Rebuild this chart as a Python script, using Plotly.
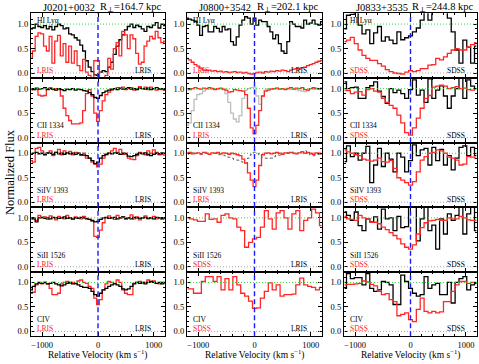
import plotly.graph_objects as go
from plotly.subplots import make_subplots

# velocity bin centres (km/s)
V50 = [-1200, -1150, -1100, -1050, -1000, -950, -900, -850, -800, -750, -700, -650,
       -600, -550, -500, -450, -400, -350, -300, -250, -200, -150, -100, -50, 0,
       50, 100, 150, 200, 250, 300, 350, 400, 450, 500, 550, 600, 650, 700, 750,
       800, 850, 900, 950, 1000, 1050, 1100, 1150, 1200]
V70 = [-1190, -1120, -1050, -980, -910, -840, -770, -700, -630, -560, -490, -420,
       -350, -280, -210, -140, -70, 0, 70, 140, 210, 280, 350, 420, 490, 560, 630,
       700, 770, 840, 910, 980, 1050, 1120, 1190]

# ---- J0201+0032 (V50 grid) ----
J0201_HI_BLACK = [0.90, 0.92, 1.00, 0.95, 0.93, 0.97, 0.90,
                  0.95, 0.88, 0.95, 1.00, 0.97, 0.90, 0.92,
                  0.80, 0.78, 0.72, 0.67, 0.57, 0.45, 0.25,
                  0.12, 0.03, -0.04, -0.05, 0.02, 0.05, 0.03,
                  0.12, 0.22, 0.38, 0.55, 0.68, 0.78, 0.88,
                  0.95, 1.00, 0.93, 0.98, 0.95, 0.90, 0.85,
                  0.95, 0.93, 0.98, 1.03, 0.92, 1.00, 0.97]
J0201_HI_RED = [0.30, 0.45, 0.75, 0.82, 0.80, 0.55, 0.45,
                0.75, 0.20, 0.65, 0.77, 0.35, 0.60, 0.22,
                0.55, 0.20, 0.45, 0.15, 0.05, 0.28, 0.02,
                -0.05, -0.10, 0.25, 0.25, -0.10, -0.10, -0.05,
                0.30, 0.08, 0.50, 0.62, 0.35, 0.85, 0.78,
                0.50, 0.78, 0.70, 0.40, 0.18, 0.22, 0.55,
                0.65, 0.75, 0.70, 0.85, 0.72, 0.62, 0.65]
J0201_CII_BLACK = [1.00, 0.98, 1.01, 0.99, 1.00, 1.02, 0.98,
                   1.00, 0.99, 0.97, 1.00, 0.98, 0.96, 0.99,
                   0.98, 1.00, 0.97, 0.99, 0.98, 0.96, 0.95,
                   0.92, 0.88, 0.82, 0.80, 0.86, 0.92, 0.95,
                   0.97, 0.99, 1.00, 0.98, 1.01, 0.99, 1.00,
                   1.02, 0.99, 1.00, 0.98, 1.01, 1.00, 0.99,
                   1.01, 0.98, 1.00, 1.02, 0.99, 1.00, 0.98]
J0201_CII_RED = [0.98, 1.00, 0.98, 0.87, 0.85, 0.86, 1.00,
                 1.02, 0.98, 1.00, 0.99, 0.85, 0.60, 0.45,
                 0.35, 0.28, 0.28, 0.28, 0.30, 0.55, 0.90,
                 0.98, 0.85, 0.50, 0.33, 0.55, 0.75, 0.88,
                 0.93, 0.97, 1.00, 1.02, 1.00, 1.03, 0.98,
                 1.00, 1.02, 0.97, 1.00, 1.04, 1.00, 1.03,
                 0.98, 1.03, 1.00, 0.97, 1.00, 0.98, 0.97]
J0201_SIIV_BLACK = [0.98, 1.00, 1.02, 0.99, 1.00, 0.97, 1.01,
                    1.00, 0.98, 1.02, 0.99, 1.00, 0.98, 1.01,
                    0.99, 1.00, 0.98, 1.00, 0.97, 0.96, 0.95,
                    0.90, 0.85, 0.79, 0.82, 0.90, 0.95, 0.98,
                    1.00, 0.99, 1.01, 1.00, 0.98, 1.00, 0.99,
                    0.94, 0.93, 0.95, 0.98, 1.00, 0.99, 1.01,
                    0.97, 0.95, 0.98, 1.00, 0.99, 1.01, 1.00]
J0201_SIIV_RED = [0.85, 0.82, 1.10, 1.12, 1.05, 0.98, 1.00,
                  1.05, 0.95, 1.02, 1.08, 0.97, 1.05, 1.00,
                  1.04, 0.97, 1.02, 1.00, 0.96, 1.00, 0.90,
                  0.90, 0.82, 0.78, 0.72, 0.78, 0.90, 0.97,
                  1.00, 1.05, 1.10, 1.02, 1.08, 0.98, 1.00,
                  0.90, 0.88, 0.87, 0.95, 1.02, 1.00, 0.97,
                  1.05, 1.00, 1.07, 1.02, 0.97, 0.98, 0.96]
J0201_SIII_BLACK = [1.00, 0.98, 0.92, 1.00, 1.01, 0.99, 1.00,
                    0.98, 1.01, 1.00, 0.99, 1.00, 1.02, 0.99,
                    1.00, 0.98, 1.00, 0.99, 1.01, 1.00, 0.98,
                    0.97, 0.95, 0.92, 0.93, 0.97, 1.00, 1.01,
                    0.99, 1.00, 1.01, 0.98, 1.00, 1.02, 0.99,
                    1.00, 0.98, 1.01, 1.00, 0.99, 1.00, 1.01,
                    0.99, 1.00, 0.98, 1.01, 1.00, 0.99, 1.00]
J0201_SIII_RED = [0.98, 1.00, 0.95, 1.05, 1.00, 1.02, 0.97,
                  1.04, 1.00, 0.96, 1.03, 1.00, 0.98, 1.05,
                  1.00, 0.97, 1.02, 1.00, 0.98, 1.03, 0.99,
                  0.97, 0.93, 0.62, 0.60, 0.75, 0.90, 1.00,
                  1.04, 1.00, 0.97, 1.05, 1.00, 1.02, 0.97,
                  1.00, 1.06, 0.98, 1.02, 0.96, 1.00, 1.04,
                  0.98, 1.00, 1.03, 0.98, 1.00, 0.97, 1.00]
J0201_CIV_BLACK = [0.85, 0.92, 0.97, 1.00, 0.98, 1.00, 0.97,
                   0.98, 1.00, 0.97, 0.95, 0.93, 0.95, 0.98,
                   1.00, 0.97, 0.98, 0.95, 0.92, 0.90, 0.90,
                   0.88, 0.82, 0.75, 0.72, 0.78, 0.85, 0.88,
                   0.92, 0.95, 0.97, 0.95, 0.92, 0.87, 0.85,
                   0.87, 0.92, 0.97, 1.00, 0.98, 1.00, 0.97,
                   1.00, 1.02, 1.00, 0.98, 1.00, 0.97, 1.00]
J0201_CIV_RED = [0.78, 0.80, 0.95, 0.98, 0.97, 1.00, 0.97,
                 0.88, 0.75, 0.75, 0.78, 0.97, 1.00, 1.02,
                 0.98, 1.00, 0.97, 1.03, 1.05, 1.00, 0.98,
                 0.92, 0.88, 0.68, 0.55, 0.65, 0.85, 0.97,
                 1.02, 1.00, 0.98, 1.05, 1.00, 0.85, 0.78,
                 0.75, 0.75, 0.98, 1.00, 1.02, 0.98, 1.00,
                 1.05, 1.00, 1.03, 0.98, 0.97, 1.00, 0.98]

# ---- J0800+3542 ----
J0800_HI_BLACK = [1.12, 1.10, 1.08, 1.05, 0.98, 0.77, 0.95,
                  0.97, 0.84, 0.84, 0.95, 0.91, 0.84, 0.95,
                  0.88, 0.90, 0.64, 0.57, 0.74, 0.98, 1.08,
                  1.15, 1.12, 1.00, 1.12, 0.98, 1.08, 1.05,
                  1.05, 0.95, 0.84, 0.70, 0.78, 0.60, 0.45,
                  0.40, 0.64, 1.05, 1.00, 0.95, 0.95, 0.92,
                  1.08, 1.00, 1.02, 1.08, 1.00, 0.98, 1.05]
J0800_HI_RED = [0.30, 0.27, 0.22, 0.17, 0.14, 0.10, 0.06,
                0.05, 0.06, 0.04, 0.05, 0.03, 0.04, 0.02,
                0.03, 0.01, 0.02, 0.03, 0.01, 0.02, 0.00,
                0.01, -0.01, -0.02, -0.01, 0.01, 0.02, 0.00,
                0.03, 0.02, 0.04, 0.03, 0.05, 0.04, 0.06,
                0.05, 0.03, 0.06, 0.08, 0.09, 0.08, 0.11,
                0.12, 0.15, 0.17, 0.19, 0.22, 0.24, 0.26]
J0800_CII_RED = [1.00, 0.98, 1.00, 1.02, 1.00, 0.99, 1.01,
                 1.00, 1.02, 1.00, 0.98, 1.00, 1.01, 0.99,
                 0.97, 0.93, 0.94, 0.98, 0.97, 0.96, 0.95,
                 0.88, 0.60, 0.20, 0.08, 0.25, 0.55, 0.85,
                 0.95, 0.97, 0.99, 1.00, 1.01, 0.99, 1.00,
                 0.98, 1.00, 1.02, 0.99, 1.01, 1.00, 1.02,
                 0.98, 0.97, 1.00, 1.02, 1.00, 0.99, 1.01]
J0800_CII_GREY = [0.25, 0.30, 0.55, 0.78, 0.88, 0.90, 0.95,
                  1.00, 0.99, 1.01, 1.00, 0.99, 1.00, 0.98,
                  0.90, 0.72, 0.50, 0.38, 0.32, 0.45, 0.80,
                  0.97, 1.00, 1.02, 1.03, 0.85, 0.68, 0.85,
                  0.97, 1.00, 1.00, 0.99, 1.01, 1.00, 0.99,
                  1.00, 1.01, 0.99, 1.00, 0.98, 0.96, 0.95,
                  0.94, 0.96, 1.00, 0.99, 1.01, 1.00, 0.99]
J0800_SIIV_RED = [1.00, 1.02, 0.99, 1.00, 1.01, 0.99, 1.02,
                  1.00, 0.98, 1.01, 1.00, 1.02, 0.99, 1.01,
                  1.00, 0.98, 1.00, 0.99, 0.97, 0.95, 0.88,
                  0.80, 0.60, 0.45, 0.32, 0.45, 0.75, 0.97,
                  1.00, 1.01, 0.99, 1.00, 1.02, 1.00, 0.98,
                  1.01, 1.00, 1.02, 1.00, 0.99, 1.01, 1.03,
                  1.00, 1.02, 1.00, 0.98, 1.01, 1.00, 0.99]
J0800_SIIV_DOTTED = [1.00, 0.98, 1.01, 0.99, 1.00, 0.98, 1.00,
                     1.02, 0.98, 0.99, 1.00, 0.98, 0.97, 0.96,
                     0.94, 0.92, 0.90, 0.87, 0.86, 0.84, 0.82,
                     0.80, 0.90, 0.97, 1.02, 1.00, 0.96, 0.92,
                     0.90, 0.89, 0.90, 0.93, 0.97, 0.96, 1.00,
                     0.99, 1.01, 1.00, 1.02, 1.00, 1.01, 1.03,
                     1.05, 1.02, 0.97, 0.95, 0.97, 0.98, 0.97]
J0800_SIII_RED = [1.00, 0.98, 0.96, 0.93, 0.93, 1.08, 0.97,
                  0.98, 0.91, 1.05, 1.08, 1.00, 0.98, 0.81,
                  0.74, 0.40, 0.50, 0.57, 0.60, 0.81, 1.15,
                  0.98, 0.77, 1.10, 1.15, 1.00, 0.77, 1.08,
                  1.15, 0.74, 0.95, 1.00, 1.18, 1.10, 0.84]
J0800_CIV_RED = [0.87, 0.87, 0.78, 0.78, 1.02, 1.12, 1.12,
                 1.02, 1.12, 0.85, 1.08, 0.85, 1.12, 0.95,
                 0.78, 0.72, 0.62, 0.47, 0.48, 0.68, 0.82,
                 0.99, 0.85, 0.95, 0.72, 0.75, 0.75, 0.76,
                 0.95, 1.09, 0.95, 0.92, 0.90, 0.85, 0.90]

# ---- J0833+3535 (V70 grid) ----
J0833_HI_BLACK = [0.90, 1.18, 1.20, 1.30, 0.98, 0.80, 0.88,
                  0.60, 0.82, 0.95, 0.65, 0.74, 0.67, 0.60,
                  0.84, 0.68, 0.72, 0.76, 0.84, 0.92, 1.08,
                  1.30, 1.08, 1.30, 1.30, 1.30, 1.30, 1.12,
                  0.84, 0.47, 0.20, 0.67, 0.53, 0.20, 0.55]
J0833_HI_RED = [0.64, 0.67, 0.73, 0.60, 0.47, 0.36, 0.30,
                0.26, 0.26, 0.19, 0.14, 0.07, 0.03, 0.00,
                -0.01, -0.02, 0.02, 0.05, 0.03, 0.05, 0.09,
                0.09, 0.16, 0.17, 0.30, 0.27, 0.33, 0.40,
                0.47, 0.50, 0.47, 0.47, 0.53, 0.58, 0.62]
J0833_CII_BLACK = [1.14, 1.00, 1.02, 1.03, 0.80, 0.80, 1.02,
                   1.06, 1.14, 0.95, 0.84, 0.70, 1.00, 0.92,
                   0.97, 0.90, 0.80, 0.98, 1.18, 0.87, 0.97,
                   0.72, 1.20, 0.80, 0.97, 1.06, 0.85, 0.60,
                   0.85, 1.00, 1.25, 0.80, 1.18, 1.05, 1.00]
J0833_CII_RED = [0.97, 0.96, 0.90, 0.93, 0.94, 0.87, 0.98,
                 1.00, 0.95, 0.93, 0.80, 0.72, 0.66, 0.60,
                 0.46, 0.30, 0.10, 0.05, 0.20, 0.40, 0.60,
                 0.80, 0.86, 1.03, 1.05, 1.07, 1.05, 1.00,
                 1.02, 1.04, 1.00, 1.01, 0.98, 0.97, 1.00]
J0833_SIIV_BLACK = [0.83, 1.15, 0.93, 1.00, 0.86, 1.00, 1.14,
                    0.40, 0.76, 1.10, 0.73, 1.00, 0.88, 0.62,
                    1.00, 0.92, 0.62, 0.85, 1.17, 0.95, 1.07,
                    1.10, 0.76, 1.12, 0.85, 1.08, 0.76, 0.95,
                    0.66, 0.90, 1.12, 1.15, 0.95, 1.12, 0.95]
J0833_SIIV_RED = [1.07, 1.03, 1.00, 0.97, 0.95, 0.88, 0.86,
                  0.84, 0.86, 0.90, 0.83, 0.82, 0.85, 0.69,
                  0.50, 0.45, 0.40, 0.35, 0.42, 0.62, 0.86,
                  0.93, 1.00, 1.02, 1.07, 1.05, 1.00, 0.92,
                  0.90, 0.86, 0.76, 0.78, 0.93, 0.92, 0.90]
J0833_SIII_BLACK = [1.12, 1.05, 0.95, 1.12, 0.84, 0.74, 0.98,
                    0.92, 1.02, 0.77, 1.18, 0.98, 1.00, 0.74,
                    1.03, 0.80, 0.82, 1.30, 1.30, 0.53, 0.98,
                    1.30, 0.74, 0.85, 0.36, 0.98, 0.67, 1.08,
                    0.95, 1.05, 1.30, 0.67, 1.08, 1.30, 0.74]
J0833_SIII_RED = [1.03, 0.98, 0.97, 0.95, 1.05, 1.00, 0.98,
                  0.91, 0.91, 0.88, 0.81, 0.76, 0.70, 0.64,
                  0.57, 0.47, 0.40, 0.36, 0.45, 0.67, 0.80,
                  0.90, 0.94, 0.95, 0.97, 0.95, 0.95, 1.00,
                  0.98, 0.98, 1.03, 1.00, 0.96, 0.95, 0.95]
J0833_CIV_BLACK = [0.88, 1.18, 1.08, 1.10, 1.10, 0.95, 1.18,
                   0.88, 0.82, 0.85, 1.02, 1.00, 0.95, 0.55,
                   0.55, 1.15, 1.02, 0.88, 0.78, 0.72, 0.75,
                   1.12, 0.88, 0.95, 0.98, 0.75, 0.75, 1.00,
                   0.58, 1.00, 1.08, 1.12, 0.85, 0.95, 0.98]
J0833_CIV_RED = [0.95, 0.96, 0.96, 0.97, 0.98, 1.03, 1.01,
                 0.96, 0.93, 0.82, 0.75, 0.77, 0.65, 0.61,
                 0.32, 0.35, 0.38, 0.24, 0.20, 0.45, 0.68,
                 0.41, 0.38, 0.41, 0.38, 0.40, 0.61, 0.61,
                 0.82, 0.95, 1.02, 1.02, 0.98, 1.00, 1.00]

QSO_NAMES = ["J0201+0032", "J0800+3542", "J0833+3535"]
R_PERP = ["164.7", "202.1", "244.8"]
ION_LABELS = ["HI Lyα", "CII 1334", "SiIV 1393", "SiII 1526", "CIV"]
RED_LABELS = [["LRIS"] * 5, ["LRIS", "LRIS", "LRIS", "SDSS", "SDSS"], ["SDSS"] * 5]
RIGHT_LABELS = ["LRIS", "LRIS", "SDSS"]

FONT = "Liberation Serif"
RED = "#ff2626"
BLACK = "#000000"
GREY = "#bdbdbd"
DARKGREY = "#555555"

# (row, col) -> list of (velocities, flux, colour, dash, width)
SPECTRA = {
    (1, 1): [(V50, J0201_HI_BLACK, BLACK, "solid", 1.3), (V50, J0201_HI_RED, RED, "solid", 1.3)],
    (2, 1): [(V50, J0201_CII_RED, RED, "solid", 1.3), (V50, J0201_CII_BLACK, BLACK, "solid", 1.3)],
    (3, 1): [(V50, J0201_SIIV_RED, RED, "solid", 1.3), (V50, J0201_SIIV_BLACK, BLACK, "solid", 1.3)],
    (4, 1): [(V50, J0201_SIII_RED, RED, "solid", 1.3), (V50, J0201_SIII_BLACK, BLACK, "solid", 1.3)],
    (5, 1): [(V50, J0201_CIV_RED, RED, "solid", 1.3), (V50, J0201_CIV_BLACK, BLACK, "solid", 1.3)],
    (1, 2): [(V50, J0800_HI_BLACK, BLACK, "solid", 1.3), (V50, J0800_HI_RED, RED, "solid", 1.3)],
    (2, 2): [(V50, J0800_CII_GREY, GREY, "solid", 1.3), (V50, J0800_CII_RED, RED, "solid", 1.3)],
    (3, 2): [(V50, J0800_SIIV_DOTTED, DARKGREY, "dot", 1.0), (V50, J0800_SIIV_RED, RED, "solid", 1.3)],
    (4, 2): [(V70, J0800_SIII_RED, RED, "solid", 1.3)],
    (5, 2): [(V70, J0800_CIV_RED, RED, "solid", 1.3)],
    (1, 3): [(V70, J0833_HI_BLACK, BLACK, "solid", 1.3), (V70, J0833_HI_RED, RED, "solid", 1.3)],
    (2, 3): [(V70, J0833_CII_BLACK, BLACK, "solid", 1.3), (V70, J0833_CII_RED, RED, "solid", 1.3)],
    (3, 3): [(V70, J0833_SIIV_BLACK, BLACK, "solid", 1.3), (V70, J0833_SIIV_RED, RED, "solid", 1.3)],
    (4, 3): [(V70, J0833_SIII_BLACK, BLACK, "solid", 1.3), (V70, J0833_SIII_RED, RED, "solid", 1.3)],
    (5, 3): [(V70, J0833_CIV_BLACK, BLACK, "solid", 1.3), (V70, J0833_CIV_RED, RED, "solid", 1.3)],
}

W, H = 479, 364
COL_PX = [(31, 165), (187, 322), (344, 477)]
ROW_TOP, ROW_H = 13.3, 64.6

fig = make_subplots(rows=5, cols=3, vertical_spacing=0, horizontal_spacing=0.04)

for (row, col), spectra in SPECTRA.items():
    for vel, flux, color, dash, width in spectra:
        fig.add_trace(
            go.Scatter(x=vel, y=flux, mode="lines",
                       line={"shape": "hvh", "color": color, "dash": dash, "width": width},
                       hoverinfo="skip"),
            row=row, col=col,
        )

label_font = {"family": FONT, "size": 7.5, "color": "black"}
for row in range(1, 6):
    for col in range(1, 4):
        n = (row - 1) * 3 + col
        xr = "x" if n == 1 else f"x{n}"
        yr = "y" if n == 1 else f"y{n}"
        x0, x1 = COL_PX[col - 1]
        top = ROW_TOP + (row - 1) * ROW_H
        fig.update_xaxes(
            domain=[x0 / W, x1 / W], range=[-1200, 1200],
            tick0=0, dtick=1000, ticks="inside", ticklen=4, tickcolor="black",
            minor={"ticks": "inside", "ticklen": 2, "dtick": 200, "tick0": 0, "tickcolor": "black"},
            showticklabels=(row == 5), tickfont={"family": FONT, "size": 8.5, "color": "black"},
            showline=True, linecolor="black", linewidth=1.3, mirror="allticks",
            showgrid=False, zeroline=False, row=row, col=col,
        )
        fig.update_yaxes(
            domain=[1 - (top + ROW_H) / H, 1 - top / H], range=[-0.1, 1.22],
            tick0=0, dtick=0.5, tickformat=".1f", ticks="inside", ticklen=4, tickcolor="black",
            minor={"ticks": "inside", "ticklen": 2, "dtick": 0.1, "tick0": 0, "tickcolor": "black"},
            tickfont={"family": FONT, "size": 8.5, "color": "black"},
            showline=True, linecolor="black", linewidth=1.3, mirror="allticks",
            showgrid=False, zeroline=False, row=row, col=col,
        )
        fig.add_hline(y=1.0, line={"color": "#2fdc2f", "width": 1, "dash": "1px,2px"}, row=row, col=col)
        fig.add_hline(y=0.0, line={"color": "#a8a8a8", "width": 1, "dash": "1px,2px"}, row=row, col=col)
        fig.add_vline(x=0, line={"color": "#1a1aff", "width": 1.4, "dash": "5px,3px"}, row=row, col=col)

        ion_y = 1.07 if row == 1 else 0.24
        fig.add_annotation(x=-1130, y=ion_y, xref=xr, yref=yr, text=ION_LABELS[row - 1],
                           showarrow=False, xanchor="left", yanchor="middle", font=label_font)
        fig.add_annotation(x=-1130, y=0.05, xref=xr, yref=yr, text=RED_LABELS[col - 1][row - 1],
                           showarrow=False, xanchor="left", yanchor="middle",
                           font={"family": FONT, "size": 7.5, "color": RED})
        fig.add_annotation(x=620, y=0.05, xref=xr, yref=yr, text=RIGHT_LABELS[col - 1],
                           showarrow=False, xanchor="left", yanchor="middle", font=label_font)

for col in range(3):
    x0, x1 = COL_PX[col]
    fig.add_annotation(x=(x0 + 10) / W, y=1 - 7 / H, xref="paper", yref="paper",
                       text=QSO_NAMES[col], showarrow=False, xanchor="left", yanchor="middle",
                       font={"family": FONT, "size": 10.5, "color": "black"})
    fig.add_annotation(x=(x1 - 1) / W, y=1 - 7 / H, xref="paper", yref="paper",
                       text=f"R<sub><span style='font-family:DejaVu Serif'>⊥</span></sub>={R_PERP[col]} kpc",
                       showarrow=False, xanchor="right", yanchor="middle",
                       font={"family": FONT, "size": 10.5, "color": "black"})
    fig.add_annotation(x=(x0 + x1) / 2 / W, y=1 - 354 / H, xref="paper", yref="paper",
                       text="Relative Velocity (km s<sup>−1</sup>)", showarrow=False,
                       xanchor="center", yanchor="middle",
                       font={"family": FONT, "size": 9.5, "color": "black"})

fig.add_annotation(x=10 / W, y=1 - 172 / H, xref="paper", yref="paper", text="Normalized Flux",
                   textangle=-90, showarrow=False, xanchor="center", yanchor="middle",
                   font={"family": FONT, "size": 12.5, "color": "black"})

fig.update_layout(
    width=W, height=H, margin={"l": 0, "r": 0, "t": 0, "b": 0},
    paper_bgcolor="white", plot_bgcolor="white", showlegend=False,
)

# the page's default 8px body margin would push the figure out of the window
fig.write_html("out.html", config={"displayModeBar": False},
               post_script="document.body.style.margin = '0px';")
